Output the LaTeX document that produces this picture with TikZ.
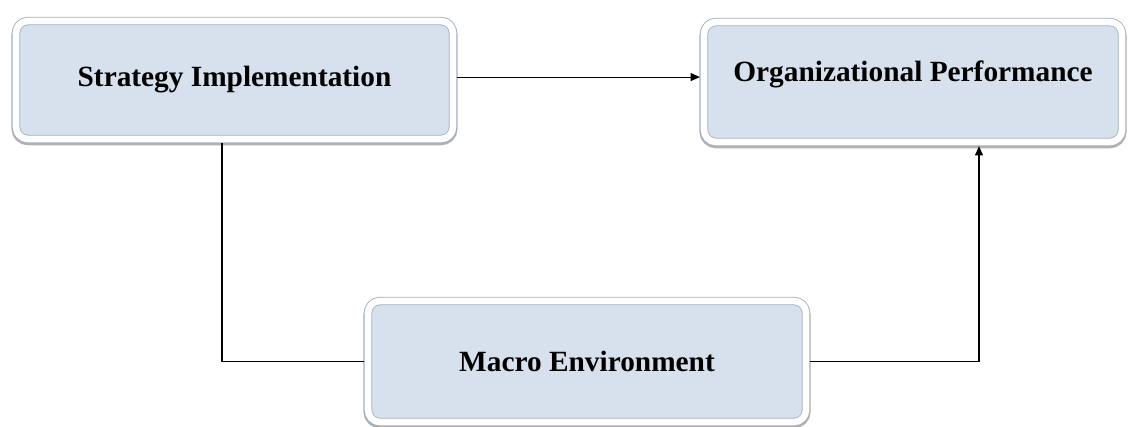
\documentclass[tikz,border=0pt]{standalone}
\usepackage{fontspec}
\setmainfont{Liberation Serif}
\usetikzlibrary{arrows.meta}
\definecolor{boxblue}{HTML}{D6E1ED}
\definecolor{boxrim}{HTML}{9EADBE}

\begin{document}
\begin{tikzpicture}[
    x=0.75pt, y=-0.75pt,
    factor/.style={
        preaction={draw=black!30, line width=6.8pt, transform canvas={yshift=-1.3pt}},
        draw=boxrim,
        line width=0.6pt,
        double=white,
        double distance=5pt,
        fill=boxblue,
        rounded corners=9pt,
        outer sep=3.1pt,
        font=\fontsize{22}{26}\selectfont\bfseries,
        align=center,
    },
    link/.style={line width=0.8pt, black},
    tip/.style={-{Triangle[length=7pt,width=6pt]}},
]

\useasboundingbox (0,0) rectangle (1128,426);

\node[factor, minimum width=327.75pt, minimum height=88.5pt] (SI) at (234.5, 80) {Strategy Implementation};
\node[factor, minimum width=313.5pt, minimum height=90pt, text depth=16pt] (OP) at (913, 82) {Organizational Performance};
\node[factor, minimum width=328.5pt, minimum height=90.75pt] (ME) at (587, 361.5) {Macro Environment};

\draw[link, tip] ([yshift=2.2pt]SI.east) -- ([yshift=2.2pt]SI.east -| OP.west);
\draw[link] ([xshift=-9.4pt]SI.south) |- (ME.west);
\draw[link, tip] (ME.east) -| ([xshift=49.5pt]OP.south);

\end{tikzpicture}
\end{document}
